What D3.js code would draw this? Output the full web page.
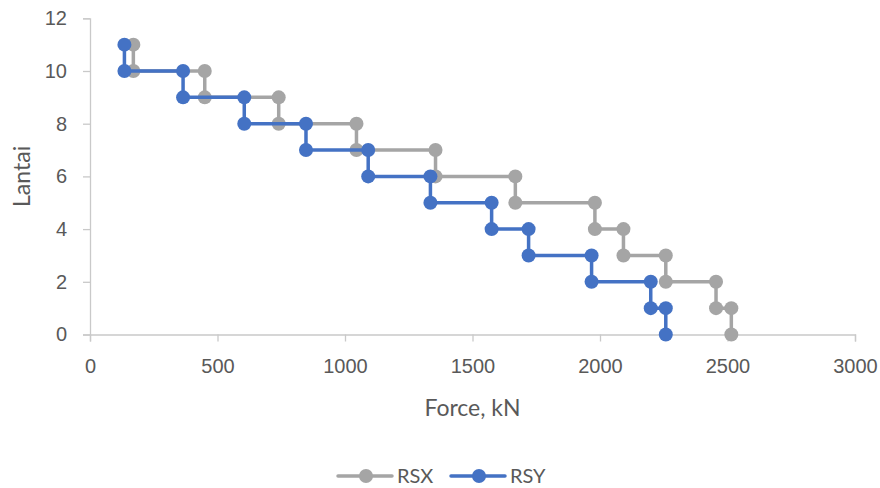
<!DOCTYPE html>
<html>
<head>
<meta charset="utf-8">
<script src="https://cdn.jsdelivr.net/npm/d3@7"></script>
<style>
  html, body { margin: 0; padding: 0; background: #fff; }
  svg { display: block; font-family: Lato, "Open Sans", sans-serif; }
</style>
</head>
<body>
<svg id="chart" width="880" height="488"></svg>
<script>
// Storey shear profile: force (kN) against floor level (Lantai), drawn as steps
const rsxForce = [170, 170, 450, 450, 740, 740, 1045, 1045, 1355, 1355, 1668, 1668,
                  1980, 1980, 2092, 2092, 2258, 2258, 2455, 2455, 2515, 2515];
const rsxLantai = [11, 10, 10, 9, 9, 8, 8, 7, 7, 6, 6, 5, 5, 4, 4, 3, 3, 2, 2, 1, 1, 0];

const rsyForce = [135, 135, 365, 365, 605, 605, 847, 847, 1091, 1091, 1335, 1335,
                  1575, 1575, 1720, 1720, 1967, 1967, 2199, 2199, 2258, 2258];
const rsyLantai = [11, 10, 10, 9, 9, 8, 8, 7, 7, 6, 6, 5, 5, 4, 4, 3, 3, 2, 2, 1, 1, 0];

const xTicks = [0, 500, 1000, 1500, 2000, 2500, 3000];
const yTicks = [0, 2, 4, 6, 8, 10, 12];

const seriesNames = ["RSX", "RSY"];
const seriesColors = ["#A5A5A5", "#4472C4"];

const series = [
  { name: seriesNames[0], color: seriesColors[0], pts: rsxForce.map((f, i) => [f, rsxLantai[i]]) },
  { name: seriesNames[1], color: seriesColors[1], pts: rsyForce.map((f, i) => [f, rsyLantai[i]]) }
];

const svg = d3.select("#chart");
const axisColor = "#C9C9C9";
const textColor = "#595959";

const x = d3.scaleLinear().domain([0, 3000]).range([90, 855]);
const y = d3.scaleLinear().domain([0, 12]).range([334.5, 18.3]);

// Axes
const xAxis = svg.append("g")
  .attr("transform", `translate(0,${y(0)})`)
  .call(d3.axisBottom(x).tickValues(xTicks).tickSize(7).tickPadding(17).tickFormat(d3.format("d")));
const yAxis = svg.append("g")
  .attr("transform", `translate(${x(0)},0)`)
  .call(d3.axisLeft(y).tickValues(yTicks).tickSize(7).tickPadding(16).tickFormat(d3.format("d")));

[xAxis, yAxis].forEach(g => {
  g.select(".domain").attr("stroke", axisColor).attr("stroke-width", 1.3);
  g.selectAll(".tick line").attr("stroke", axisColor).attr("stroke-width", 1.3);
  g.selectAll(".tick text").attr("fill", textColor).style("font-size", "20px");
});

// Axis titles
svg.append("text")
  .attr("x", (x(0) + x(3000)) / 2).attr("y", 408).attr("dy", "0.35em")
  .attr("text-anchor", "middle")
  .attr("fill", textColor).style("font-size", "23px")
  .text("Force, kN");
svg.append("text")
  .attr("transform", `translate(22,${(y(0) + y(12)) / 2}) rotate(-90)`)
  .attr("dy", "0.35em")
  .attr("text-anchor", "middle")
  .attr("fill", textColor).style("font-size", "23px")
  .text("Lantai");

// Series lines and markers
const line = d3.line().x(d => x(d[0])).y(d => y(d[1]));
series.forEach(s => {
  const g = svg.append("g");
  g.append("path")
    .attr("d", line(s.pts))
    .attr("fill", "none")
    .attr("stroke", s.color)
    .attr("stroke-width", 3.5)
    .attr("stroke-linejoin", "round");
  g.selectAll("circle").data(s.pts).join("circle")
    .attr("cx", d => x(d[0])).attr("cy", d => y(d[1]))
    .attr("r", 7)
    .attr("fill", s.color);
});

// Legend
const legendX = [338, 451];
series.forEach((s, i) => {
  const g = svg.append("g").attr("transform", `translate(${legendX[i]},476)`);
  g.append("line").attr("x1", 0).attr("x2", 54).attr("y1", 0).attr("y2", 0)
    .attr("stroke", s.color).attr("stroke-width", 3.5).attr("stroke-linecap", "round");
  g.append("circle").attr("cx", 28).attr("cy", 0).attr("r", 7).attr("fill", s.color);
  g.append("text").attr("x", 59).attr("y", 0).attr("dy", "0.35em")
    .attr("fill", textColor).style("font-size", "20px").text(s.name);
});
</script>
</body>
</html>
